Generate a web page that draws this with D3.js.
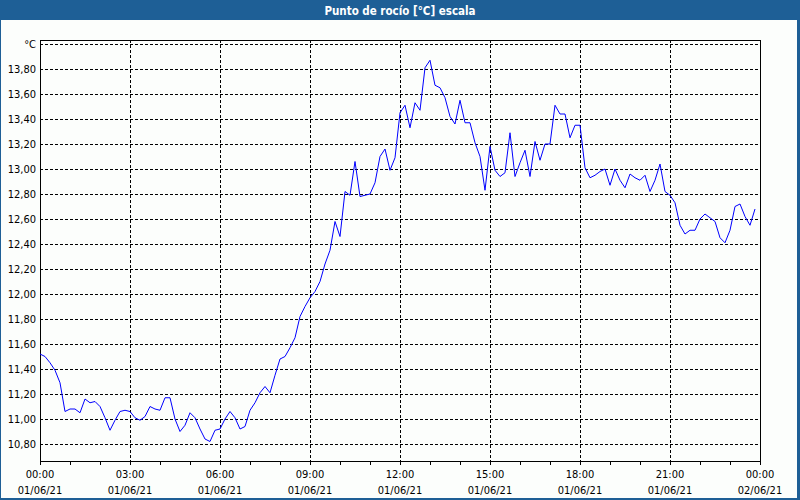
<!DOCTYPE html>
<html>
<head>
<meta charset="utf-8">
<script src="https://cdn.jsdelivr.net/npm/d3@7"></script>
<style>
  html, body { margin: 0; padding: 0; background: #ffffff; }
  svg { display: block; }
  text { font-family: "DejaVu Sans Condensed", "Liberation Sans", sans-serif; }
</style>
</head>
<body>
<svg id="chart" width="800" height="500"></svg>
<script>
// Title and units
const chartTitle = 'Punto de rocío [°C] escala';
const unitLabel = '°C';

// Time axis: one reading every 10 minutes over 01/06/21
const startTime = new Date(2021, 5, 1, 0, 0);
const endTime = new Date(2021, 5, 2, 0, 0);
const stepMinutes = 10;

// Dew point readings
const dewPoint = [
    11.52, 11.50, 11.45, 11.39, 11.29, 11.06, 11.08, 11.08, 11.05, 11.16, 11.13, 11.14,
    11.10, 11.01, 10.91, 10.99, 11.06, 11.07, 11.06, 11.01, 10.99, 11.02, 11.10, 11.08,
    11.07, 11.17, 11.17, 11.00, 10.90, 10.95, 11.05, 11.01, 10.92, 10.84, 10.82, 10.91,
    10.92, 11.00, 11.06, 11.01, 10.92, 10.94, 11.07, 11.13, 11.21, 11.26, 11.21, 11.35,
    11.48, 11.50, 11.57, 11.65, 11.82, 11.90, 11.97, 12.02, 12.10, 12.24, 12.35, 12.58,
    12.46, 12.82, 12.79, 13.06, 12.78, 12.79, 12.80, 12.89, 13.10, 13.16, 12.99, 13.09,
    13.45, 13.51, 13.33, 13.53, 13.47, 13.81, 13.87, 13.67, 13.65, 13.57, 13.42, 13.36,
    13.55, 13.37, 13.37, 13.21, 13.10, 12.83, 13.18, 12.99, 12.94, 12.97, 13.29, 12.94,
    13.05, 13.15, 12.94, 13.22, 13.07, 13.20, 13.20, 13.51, 13.44, 13.44, 13.25, 13.35,
    13.35, 13.01, 12.93, 12.95, 12.98, 13.00, 12.87, 13.00, 12.91, 12.85, 12.96, 12.93,
    12.91, 12.95, 12.82, 12.91, 13.04, 12.82, 12.79, 12.73, 12.55, 12.48, 12.51, 12.51,
    12.60, 12.64, 12.61, 12.58, 12.45, 12.41, 12.51, 12.70, 12.72, 12.62, 12.55, 12.68
];

// Y ticks (the top one carries the unit instead of a number)
const yTicks = [10.8, 11.0, 11.2, 11.4, 11.6, 11.8, 12.0, 12.2, 12.4, 12.6, 12.8, 13.0, 13.2, 13.4, 13.6, 13.8, 14.0];
const yMin = 10.8;
const yMax = 14.0;

const svg = d3.select('#chart');
const W = 800, H = 500;
const plot = { left: 40, right: 760, top: 40, bottom: 461 };

// Window frame + title bar
const frameBlue = '#1e5f96';
svg.append('rect').attr('width', W).attr('height', H).attr('fill', frameBlue);
svg.append('rect')
    .attr('x', 1).attr('y', 20)
    .attr('width', 796).attr('height', 478)
    .attr('fill', '#fcfefc');
svg.append('text')
    .attr('x', W / 2).attr('y', 15)
    .attr('text-anchor', 'middle')
    .attr('fill', '#ffffff')
    .style('font-weight', 'bold')
    .style('font-size', '11.5px')
    .text(chartTitle);

// Scales
const x = d3.scaleTime().domain([startTime, endTime]).range([plot.left, plot.right]);
const y = d3.scaleLinear().domain([yMin, yMax]).range([444, 44]);

const points = dewPoint.map((v, i) => ({
    t: new Date(startTime.getTime() + i * stepMinutes * 60000),
    v: v
}));

const px = (v) => Math.round(v) + 0.5; // crisp 1px lines

// Grid
const grid = svg.append('g').attr('stroke', '#000').attr('stroke-dasharray', '3,2').attr('stroke-width', 1);
grid.selectAll('line.h').data(yTicks).enter().append('line')
    .attr('x1', plot.left).attr('x2', plot.right)
    .attr('y1', (d) => px(y(d))).attr('y2', (d) => px(y(d)));
const majorTimes = d3.timeHour.every(3).range(startTime, endTime).slice(1);
grid.selectAll('line.v').data(majorTimes).enter().append('line')
    .attr('y1', plot.top).attr('y2', plot.bottom)
    .attr('x1', (d) => px(x(d))).attr('x2', (d) => px(x(d)));

// Axes frame (left, bottom, right)
svg.append('path')
    .attr('d', `M${px(plot.left)},${plot.top}V${px(plot.bottom)}H${px(plot.right)}V${plot.top}`)
    .attr('fill', 'none').attr('stroke', '#000');
svg.append('line')
    .attr('x1', plot.left).attr('x2', plot.right)
    .attr('y1', px(plot.top)).attr('y2', px(plot.top))
    .attr('stroke', '#000');

// Hourly ticks under the x axis
const hourTimes = d3.timeHour.every(1).range(startTime, d3.timeMinute.offset(endTime, 1));
svg.append('g').selectAll('line').data(hourTimes).enter().append('line')
    .attr('x1', (d) => px(x(d))).attr('x2', (d) => px(x(d)))
    .attr('y1', plot.bottom).attr('y2', plot.bottom + 4)
    .attr('stroke', '#000');

// Y labels
const fmt = (d) => d3.format('.2f')(d).replace('.', ',');
svg.append('g').selectAll('text').data(yTicks).enter().append('text')
    .attr('x', 36)
    .attr('y', (d) => y(d) + 4)
    .attr('text-anchor', 'end')
    .attr('fill', '#000')
    .style('font-size', '11px')
    .text((d) => (d === yMax ? unitLabel : fmt(d)));

// X labels (time and date on two lines)
const labelTimes = d3.timeHour.every(3).range(startTime, d3.timeMinute.offset(endTime, 1));
const xl = svg.append('g').selectAll('text').data(labelTimes).enter().append('text')
    .attr('text-anchor', 'middle')
    .attr('fill', '#000')
    .style('font-size', '11px');
xl.append('tspan').attr('x', (d) => x(d)).attr('y', 478).text(d3.timeFormat('%H:%M'));
xl.append('tspan').attr('x', (d) => x(d)).attr('y', 494).text(d3.timeFormat('%d/%m/%y'));

// Data line
const line = d3.line().x((d) => x(d.t)).y((d) => y(d.v));
svg.append('path')
    .datum(points)
    .attr('d', line)
    .attr('fill', 'none')
    .attr('stroke', '#0000ff')
    .attr('stroke-width', 1);
</script>
</body>
</html>
